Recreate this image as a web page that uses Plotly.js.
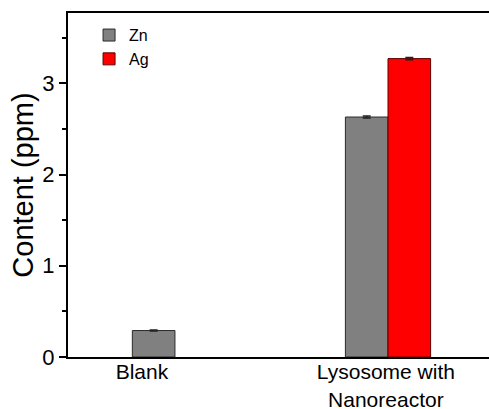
<!DOCTYPE html>
<html>
<head>
<meta charset="utf-8">
<script src="https://cdn.plot.ly/plotly-3.0.1.min.js"></script>
<style>html,body{margin:0;padding:0;background:#fff;}#chart{width:489px;height:409px;}</style>
</head>
<body>
<div id="chart"></div>
<script>
// Data
const categories = ['Blank', 'Lysosome with<br>Nanoreactor'];
const znValues = [0.29, 2.63];
const znErrors = [0.005, 0.01];
const agValues = [null, 3.27];
const agErrors = [null, 0.012];
const yTickVals = [0, 1, 2, 3];

const xIdx = categories.map((c, i) => i);

const font = 'Liberation Sans, Arial, sans-serif';

const traces = [
  {
    type: 'bar', name: 'Zn', x: xIdx, y: znValues,
    marker: {color: '#808080', line: {color: '#2a2a2a', width: 1}},
    error_y: {type: 'data', array: znErrors, visible: true, color: '#222', thickness: 1.5, width: 4}
  },
  {
    type: 'bar', name: 'Ag', x: xIdx, y: agValues,
    marker: {color: '#ff0000', line: {color: '#5a0000', width: 1}},
    error_y: {type: 'data', array: agErrors, visible: true, color: '#222', thickness: 1.5, width: 4}
  }
];

const layout = {
  width: 489, height: 409,
  margin: {l: 68, r: 0, t: 13, b: 52},
  paper_bgcolor: '#fff', plot_bgcolor: '#fff',
  barmode: 'group', bargap: 0.6, bargroupgap: 0,
  font: {family: font, color: '#000'},
  showlegend: true,
  legend: {
    x: 0.05, y: 0.985, xanchor: 'left', yanchor: 'top',
    bgcolor: 'rgba(0,0,0,0)', font: {size: 16, family: font},
    tracegroupgap: 0, itemwidth: 30
  },
  xaxis: {
    type: 'linear', range: [-0.502, 1.474],
    tickmode: 'array', tickvals: [-0.155, 0.99], ticktext: categories,
    ticks: '', showgrid: false, zeroline: false,
    showline: true, linecolor: '#000', linewidth: 2, mirror: true,
    tickfont: {size: 21, family: font},
    ticklabelstandoff: -5
  },
  yaxis: {
    range: [0, 3.77],
    tickmode: 'array', tickvals: yTickVals,
    ticks: 'outside', ticklen: 7, tickwidth: 2, tickcolor: '#000',
    minor: {dtick: 0.5, ticks: 'outside', ticklen: 4, tickwidth: 2, tickcolor: '#000', showgrid: false},
    showgrid: false, zeroline: false,
    showline: true, linecolor: '#000', linewidth: 2,
    tickfont: {size: 22, family: font},
    title: {text: 'Content (ppm)', font: {size: 29, family: font}, standoff: 0}
  }
};

Plotly.newPlot('chart', traces, layout, {displayModeBar: false, staticPlot: true});
</script>
</body>
</html>
